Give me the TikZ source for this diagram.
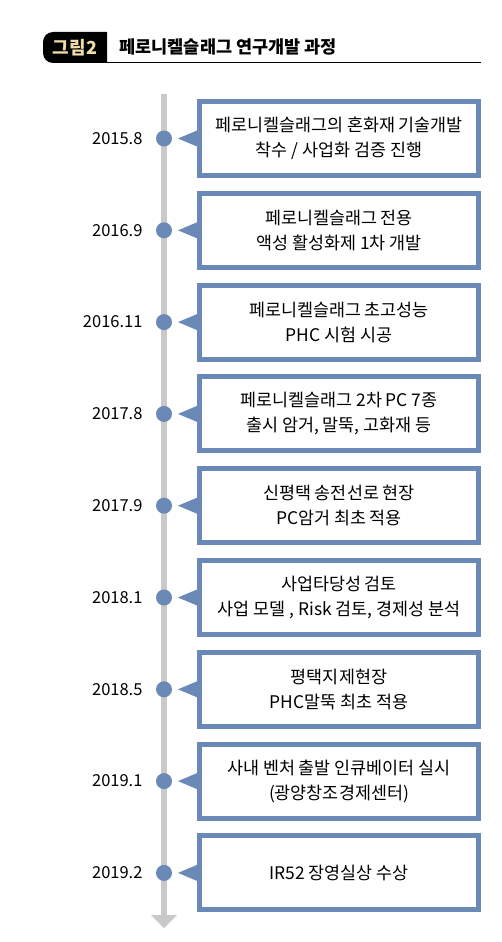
\documentclass[tikz,border=0pt]{standalone}
\usepackage{fontspec}
\setmainfont{Noto Sans CJK KR}
\usetikzlibrary{arrows.meta}
\definecolor{stepblue}{HTML}{6B89B7}
\definecolor{railgray}{HTML}{C9C9C9}
\definecolor{tabcream}{HTML}{F0DCA6}

\begin{document}
\begin{tikzpicture}[
        x=1pt,y=-1pt,
        date/.style={anchor=east,font=\fontsize{16.5}{18}\selectfont},
        dot/.style={circle,fill=stepblue,inner sep=0pt,minimum size=16pt},
        card/.style={draw=stepblue,line width=5pt,minimum width=279pt,minimum height=74pt,
          align=center,font=\fontsize{17.4}{25}\selectfont},
        rail/.style={-{Triangle[width=26pt,length=13pt,line width=0pt]},draw=railgray,
          line width=6pt}
      ]
        \useasboundingbox (0,0) rectangle (501,942);
        % title bar
        \fill (107,32) [rounded corners=10pt] -- (43,32) -- (43,63) [sharp corners] -- (107,63) -- cycle;
        \node[text=tabcream,font=\fontsize{18}{20}\selectfont\bfseries] (fig) at (75,47.5) {그림2};
        \node[anchor=west,font=\fontsize{17.5}{19}\selectfont\bfseries] (title) at (116,46.5) {페로니켈슬래그 연구개발 과정};
        \draw[line width=1.5pt] (fig.east |- 0,62.3) coordinate (ruleL) -- (481,62.3) coordinate (ruleR);
        % time rail
        \coordinate (railtop) at (164,94);
        \coordinate (railend) at (164,928);
        \draw[rail] (railtop) -- (railend);
        % steps
        \node[card] (c1) at (339,138.5) {페로니켈슬래그의 혼화재 기술개발\\착수 / 사업화 검증 진행};
        \node[card] (c2) at (339,230.3) {페로니켈슬래그 전용\\액성 활성화제 1차 개발};
        \node[card] (c3) at (339,322.1) {페로니켈슬래그 초고성능\\PHC 시험 시공};
        \node[card] (c4) at (339,413.9) {페로니켈슬래그 2차 PC 7종\\출시 암거, 말뚝, 고화재 등};
        \node[card] (c5) at (339,505.7) {신평택 송전선로 현장\\PC암거 최초 적용};
        \node[card] (c6) at (339,597.5) {사업타당성 검토\\사업 모델 , Risk 검토, 경제성 분석};
        \node[card] (c7) at (339,689.3) {평택지제현장\\PHC말뚝 최초 적용};
        \node[card] (c8) at (339,781.1) {사내 벤처 출발 인큐베이터 실시\\(광양창조경제센터)};
        \node[card] (c9) at (339,872.9) {IR52 장영실상 수상};
        \node[date] (d1) at (146,138.5) {2015.8};
        \node[date] (d2) at (146,230.3) {2016.9};
        \node[date] (d3) at (146,322.1) {2016.11};
        \node[date] (d4) at (146,413.9) {2017.8};
        \node[date] (d5) at (146,505.7) {2017.9};
        \node[date] (d6) at (146,597.5) {2018.1};
        \node[date] (d7) at (146,689.3) {2018.5};
        \node[date] (d8) at (146,781.1) {2019.1};
        \node[date] (d9) at (146,872.9) {2019.2};
        \foreach \i in {1,...,9}{
          \node[dot] (p\i) at (railtop |- c\i) {};
          \fill[stepblue] ([yshift=8pt]c\i.west) -- ([xshift=-19pt]c\i.west) -- ([yshift=-8pt]c\i.west) -- cycle;
        }
      \end{tikzpicture}
\end{document}
